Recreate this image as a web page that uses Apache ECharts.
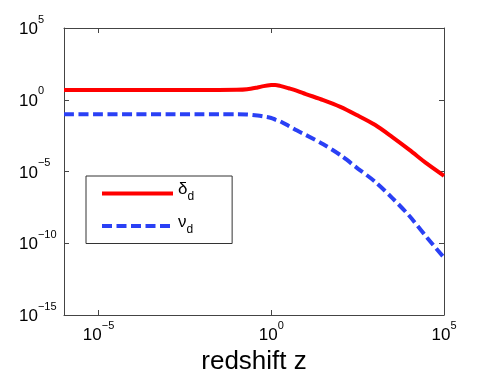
<!DOCTYPE html>
<html>
<head>
<meta charset="utf-8">
<script src="https://cdn.jsdelivr.net/npm/echarts@6/dist/echarts.min.js"></script>
<style>
html, body { margin: 0; padding: 0; background: #fff; }
#container { width: 491px; height: 373px; }
</style>
</head>
<body>
<div id="container"></div>
<script>
// redshift samples
var zValues = [1e-6, 1e-5, 1e-4, 1e-3, 1e-2, 3e-2, 0.1, 0.2, 0.4, 0.6, 1, 1.3, 1.8, 3.2, 5.6, 10, 32, 100, 320, 1000, 3200, 1e4, 3.2e4, 1e5];
// delta_d
var deltaD = [4.8, 4.8, 4.8, 4.8, 4.8, 4.8, 4.9, 5.4, 7.2, 8.9, 10.5, 10.7, 9.3, 6.3, 4.2, 2.5, 0.95, 0.32, 0.079, 0.018, 2.5e-3, 3.2e-4, 3.5e-5, 5e-6];
// nu_d
var nuD = [0.098, 0.098, 0.098, 0.098, 0.098, 0.098, 0.097, 0.093, 0.079, 0.068, 0.054, 0.042, 0.032, 0.015, 7.1e-3, 3.5e-3, 7.9e-4, 1.4e-4, 1.6e-5, 2e-6, 1.4e-7, 7.9e-9, 2.5e-10, 1e-11];

var xTicks = [1e-5, 1, 1e5];
var yTicks = [1e-15, 1e-10, 1e-5, 1, 1e5];
var legendNames = ['δ_d', 'ν_d'];

var FONT = '"Liberation Sans", Arial, Helvetica, sans-serif';

function pairs(xs, ys) {
	var out = [];
	for (var i = 0; i < xs.length; i++) out.push([xs[i], ys[i]]);
	return out;
}

function powLabel(v) {
	var e = Math.round(Math.log(v) / Math.LN10);
	var s = e < 0 ? '\u2212' + (-e) : '' + e;
	return '{b|10}{s|' + s + '}';
}

// superscript raised with bottom padding
var tickRich = {
	b: { fontSize: 17, padding: [3, 0, 0, 0], color: '#000', fontFamily: FONT },
	s: { fontSize: 11, padding: [0, 0, 17, 0], color: '#000', fontFamily: FONT }
};

var axisLineStyle = { color: '#444', width: 1 };

var dom = document.getElementById('container');
var myChart = echarts.init(dom, null, { renderer: 'canvas' });

var option = {
	animation: false,
	backgroundColor: '#fff',
	grid: { left: 64, right: 47, top: 28, bottom: 58, containLabel: false, outerBoundsMode: 'none' },
	legend: {
		orient: 'vertical',
		left: 86,
		top: 176,
		padding: [5, 38, 5, 14],
		itemWidth: 71,
		itemHeight: 25,
		itemGap: 7.5,
		backgroundColor: '#fff',
		borderColor: '#333',
		borderWidth: 1,
		itemStyle: { color: 'transparent', borderWidth: 0, opacity: 0 },
		lineStyle: { width: 4 },
		data: legendNames,
		formatter: function(name) {
			var p = name.split('_');
			return '{g|' + p[0] + '}{d|' + p[1] + '}';
		},
		textStyle: {
			lineHeight: 25,
			rich: {
				g: { fontSize: 17, padding: [0, 0, 8, 0], color: '#000', fontFamily: FONT },
				d: { fontSize: 12, padding: [7, 0, 0, 0], color: '#000', fontFamily: FONT }
			}
		}
	},
	xAxis: [
		{
			type: 'log',
			logBase: 10,
			min: 1e-6,
			max: 1e5,
			name: 'redshift z',
			nameLocation: 'middle',
			nameGap: 32,
			nameTextStyle: { fontSize: 26, color: '#000', fontFamily: FONT },
			axisLine: { show: true, lineStyle: axisLineStyle },
			axisTick: { show: true, inside: true, length: 5, customValues: xTicks, lineStyle: axisLineStyle },
			axisLabel: { margin: 5, customValues: xTicks, formatter: powLabel, rich: tickRich },
			splitLine: { show: false },
			minorTick: { show: false }
		},
		{
			type: 'log',
			logBase: 10,
			min: 1e-6,
			max: 1e5,
			position: 'top',
			axisLine: { show: true, lineStyle: axisLineStyle },
			axisTick: { show: true, inside: true, length: 5, customValues: xTicks, lineStyle: axisLineStyle },
			axisLabel: { show: false },
			splitLine: { show: false }
		}
	],
	yAxis: [
		{
			type: 'log',
			logBase: 10,
			min: 1e-15,
			max: 1e5,
			axisLine: { show: true, lineStyle: axisLineStyle },
			axisTick: { show: true, inside: true, length: 5, customValues: yTicks, lineStyle: axisLineStyle },
			axisLabel: { margin: 45, align: 'left', customValues: yTicks, formatter: powLabel, rich: tickRich },
			splitLine: { show: false }
		},
		{
			type: 'log',
			logBase: 10,
			min: 1e-15,
			max: 1e5,
			position: 'right',
			axisLine: { show: true, lineStyle: axisLineStyle },
			axisTick: { show: true, inside: true, length: 5, customValues: yTicks, lineStyle: axisLineStyle },
			axisLabel: { show: false },
			splitLine: { show: false }
		}
	],
	series: [
		{
			name: legendNames[0],
			type: 'line',
			data: pairs(zValues, deltaD),
			symbol: 'none',
			smooth: 0.3,
			lineStyle: { color: '#ff0000', width: 4 },
			itemStyle: { color: '#ff0000' }
		},
		{
			name: legendNames[1],
			type: 'line',
			data: pairs(zValues, nuD),
			symbol: 'none',
			smooth: 0.3,
			lineStyle: { color: '#2a40f5', width: 4, type: [10, 4.5] },
			itemStyle: { color: '#2a40f5' }
		}
	]
};

if (option && typeof option === "object") {
	myChart.setOption(option, true);
}
</script>
</body>
</html>
